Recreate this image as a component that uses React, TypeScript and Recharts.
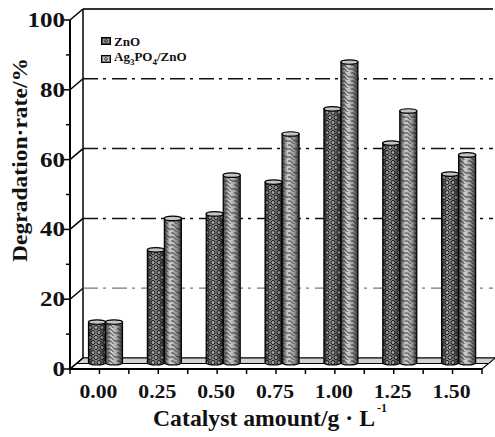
import React from 'react';
import { BarChart, Bar, XAxis, YAxis, ReferenceArea, Legend } from 'recharts';

const categories = ['0.00', '0.25', '0.50', '0.75', '1.00', '1.25', '1.50'];
const znoValues = [12.3, 33, 43.3, 52.4, 73.4, 63.6, 54.7];
const agZnoValues = [12.3, 42, 54.4, 66.2, 86.8, 72.8, 60.2];
const yTicks = [0, 10, 20, 30, 40, 50, 60, 70, 80, 90, 100];
const gridValues = [20, 40, 60, 80];
const seriesOrder = ['zno', 'ag'];

const data = categories.map((c, i) => ({ amount: c, zno: znoValues[i], ag: agZnoValues[i] }));

const W = 495;
const H = 437;
const TOP = 20;
const AXIS_X = 70;
const X_AXIS_H = 68;
const AXIS_Y = H - X_AXIS_H;
const PLOT_W = W - 13 - AXIS_X;
const HALF_BAND = PLOT_W / categories.length / 2;
// 3D depth of the back wall and of the bar row
const DEPTH_X = 13;
const DEPTH_Y = 11;
const BAR_DX = 6.5;
const BAR_DY = 4;
const FONT = "'Liberation Serif', 'Times New Roman', Times, serif";
const txt = { fontFamily: FONT, fontWeight: 700 };

const YTick = (props: any) => {
  const { y, payload } = props;
  const v = payload.value;
  const major = v % 20 === 0;
  const label = String(v);
  return (
    <g>
      <line x1={AXIS_X - (major ? 6 : 4)} y1={y} x2={AXIS_X} y2={y} stroke="#000" strokeWidth={1.5} />
      {major && (
        <line x1={AXIS_X} y1={y} x2={AXIS_X + DEPTH_X} y2={y - DEPTH_Y} stroke="#000" strokeWidth={1.5} />
      )}
      {major && (
        <text
          x={AXIS_X - 5}
          y={y + 7}
          textAnchor="end"
          style={txt}
          fontSize={20}
          textLength={label.length * 12.5}
          lengthAdjust="spacingAndGlyphs"
          fill="#111"
        >
          {label}
        </text>
      )}
    </g>
  );
};

const XTick = (props: any) => {
  const { x, payload, index } = props;
  return (
    <g>
      {index === 0 && <line x1={x - HALF_BAND} y1={AXIS_Y} x2={x - HALF_BAND} y2={AXIS_Y + 5} stroke="#000" strokeWidth={1.5} />}
      <line x1={x} y1={AXIS_Y} x2={x} y2={AXIS_Y + 5} stroke="#000" strokeWidth={1.5} />
      <line x1={x + HALF_BAND} y1={AXIS_Y} x2={x + HALF_BAND} y2={AXIS_Y + 5} stroke="#000" strokeWidth={1.5} />
      <text
        x={x - 1}
        y={AXIS_Y + 29}
        textAnchor="middle"
        style={txt}
        fontSize={18}
        textLength={38}
        lengthAdjust="spacingAndGlyphs"
        fill="#111"
      >
        {payload.value}
      </text>
    </g>
  );
};

const Room = (props: any) => {
  const { x, y, width, height } = props;
  const bottom = y + height;
  const right = x + width;
  const backX = x + DEPTH_X;
  const top = y - DEPTH_Y;
  const floorBack = bottom - DEPTH_Y;
  const mid = bottom - DEPTH_Y / 2;
  return (
    <g>
      <polygon
        points={`${x},${bottom} ${right},${bottom} ${right + DEPTH_X},${floorBack} ${backX},${floorBack}`}
        fill="#fff"
        stroke="#000"
        strokeWidth={1.2}
      />
      <polygon
        points={`${x + DEPTH_X / 2},${mid} ${right + DEPTH_X / 2},${mid} ${right + DEPTH_X},${floorBack} ${backX},${floorBack}`}
        fill="#d2d2d2"
        stroke="#000"
        strokeWidth={1}
      />
      <line x1={backX} y1={top} x2={backX} y2={floorBack} stroke="#000" strokeWidth={1.5} />
      <line x1={backX} y1={top} x2={W - 2} y2={top} stroke="#333" strokeWidth={2} />
      {gridValues.map((v) => {
        const gy = y + height * (1 - v / 100) - DEPTH_Y;
        return (
          <line
            key={v}
            x1={backX}
            y1={gy}
            x2={W - 2}
            y2={gy}
            stroke={v === 20 ? '#777' : '#111'}
            strokeWidth={v === 20 ? 1.2 : 1.5}
            strokeDasharray="15 5 3 6"
          />
        );
      })}
    </g>
  );
};

const Cylinder = (props: any) => {
  const { x, y, width, height, pattern } = props;
  if (!height || height <= 0) return null;
  const bx = x + BAR_DX;
  const by = y - BAR_DY;
  const r = width / 2;
  const ry = 2.2;
  const d = `M${bx},${by} L${bx},${by + height - ry} A${r},${ry} 0 0 0 ${bx + width},${by + height - ry} L${bx + width},${by} Z`;
  return (
    <g>
      <path d={d} fill="url(#cylGrad)" />
      <path d={d} fill={`url(#${pattern})`} />
      <path d={d} fill="none" stroke="#000" strokeWidth={1.2} />
      <ellipse cx={bx + r} cy={by} rx={r} ry={ry} fill="#c4c4c4" stroke="#000" strokeWidth={1.2} />
    </g>
  );
};

const subscripted = (name: string) =>
  name.split(/(\d)/).map((part, i) =>
    /\d/.test(part) ? (
      <sub key={i} style={{ fontSize: 9 }}>
        {part}
      </sub>
    ) : (
      <span key={i}>{part}</span>
    )
  );

const LegendBox = (props: any) => {
  const items = [...(props.payload || [])].sort(
    (a: any, b: any) => seriesOrder.indexOf(a.dataKey) - seriesOrder.indexOf(b.dataKey)
  );
  return (
    <div style={{ fontFamily: FONT, fontWeight: 700, fontSize: 13, color: '#111', lineHeight: '13px' }}>
      {items.map((entry: any) => (
        <div key={entry.value} style={{ display: 'flex', alignItems: 'center', height: 18 }}>
          <svg width={10} height={8} style={{ marginRight: 3 }}>
            <rect x={0.5} y={0.5} width={9} height={7} fill={entry.dataKey === 'zno' ? '#444' : '#777'} stroke="#000" />
            <rect x={2} y={2} width={6} height={4} fill={entry.dataKey === 'zno' ? '#999' : '#ccc'} />
            <circle cx={5} cy={4} r={1.4} fill="none" stroke="#222" strokeWidth={0.8} />
          </svg>
          <span>{subscripted(entry.value)}</span>
        </div>
      ))}
    </div>
  );
};

const XTitle = (props: any) => {
  const { viewBox } = props;
  const cx = viewBox.x + viewBox.width / 2 - 6;
  return (
    <g style={txt} fill="#111">
      <text x={cx - 117} y={426} style={txt} fontSize={24} textLength={222} lengthAdjust="spacingAndGlyphs">
        Catalyst amount/g · L
      </text>
      <text x={cx + 107} y={412} style={txt} fontSize={12}>
        -1
      </text>
    </g>
  );
};

const YTitle = () => (
  <text
    x={27}
    y={262}
    transform="rotate(-90, 27, 262)"
    style={txt}
    fontSize={22}
    textLength={204}
    lengthAdjust="spacingAndGlyphs"
    fill="#111"
  >
    Degradation·rate/%
  </text>
);

export default function App() {
  return (
    <div style={{ position: 'absolute', left: 0, top: 0, width: W, height: H, background: '#fff' }}>
      <BarChart
        width={W}
        height={H}
        data={data}
        margin={{ top: TOP, right: 13, left: 0, bottom: 0 }}
        barGap={0}
        barSize={17}
      >
        <defs>
          <linearGradient id="cylGrad" x1="0" y1="0" x2="1" y2="0">
            <stop offset="0" stopColor="#3a3a3a" />
            <stop offset="0.35" stopColor="#cfcfcf" />
            <stop offset="0.65" stopColor="#a8a8a8" />
            <stop offset="1" stopColor="#333" />
          </linearGradient>
          <pattern id="znoPat" width="6" height="10" patternUnits="userSpaceOnUse">
            <rect width="6" height="10" fill="#000" opacity="0.3" />
            <circle cx="3" cy="2.5" r="2" fill="#eee" fillOpacity="0.35" stroke="#111" strokeWidth="1" />
            <circle cx="0" cy="7.5" r="2" fill="#eee" fillOpacity="0.35" stroke="#111" strokeWidth="1" />
            <circle cx="6" cy="7.5" r="2" fill="#eee" fillOpacity="0.35" stroke="#111" strokeWidth="1" />
          </pattern>
          <pattern id="agPat" width="9" height="8" patternUnits="userSpaceOnUse">
            <path d="M0,1 Q3,0 4.5,3 T9,5" fill="none" stroke="#222" strokeWidth="0.9" />
            <path d="M0,5 Q3,4 4.5,7 T9,9" fill="none" stroke="#222" strokeWidth="0.9" />
          </pattern>
        </defs>
        <ReferenceArea y1={0} y2={100} shape={<Room />} ifOverflow="visible" />
        <XAxis
          dataKey="amount"
          height={X_AXIS_H}
          interval={0}
          axisLine={{ stroke: '#000', strokeWidth: 2 }}
          tickLine={false}
          tick={XTick}
          label={<XTitle />}
        />
        <YAxis
          domain={[0, 100]}
          ticks={yTicks}
          interval={0}
          width={AXIS_X}
          axisLine={{ stroke: '#000', strokeWidth: 2 }}
          tickLine={false}
          tick={YTick}
          label={<YTitle />}
        />
        <Legend
          layout="vertical"
          align="center"
          verticalAlign="middle"
          content={LegendBox}
          wrapperStyle={{ left: 101, top: 32, width: 'auto' }}
        />
        <Bar
          dataKey="zno"
          name="ZnO"
          isAnimationActive={false}
          shape={(p: any) => <Cylinder {...p} pattern="znoPat" />}
        />
        <Bar
          dataKey="ag"
          name="Ag3PO4/ZnO"
          isAnimationActive={false}
          shape={(p: any) => <Cylinder {...p} pattern="agPat" />}
        />
      </BarChart>
    </div>
  );
}
